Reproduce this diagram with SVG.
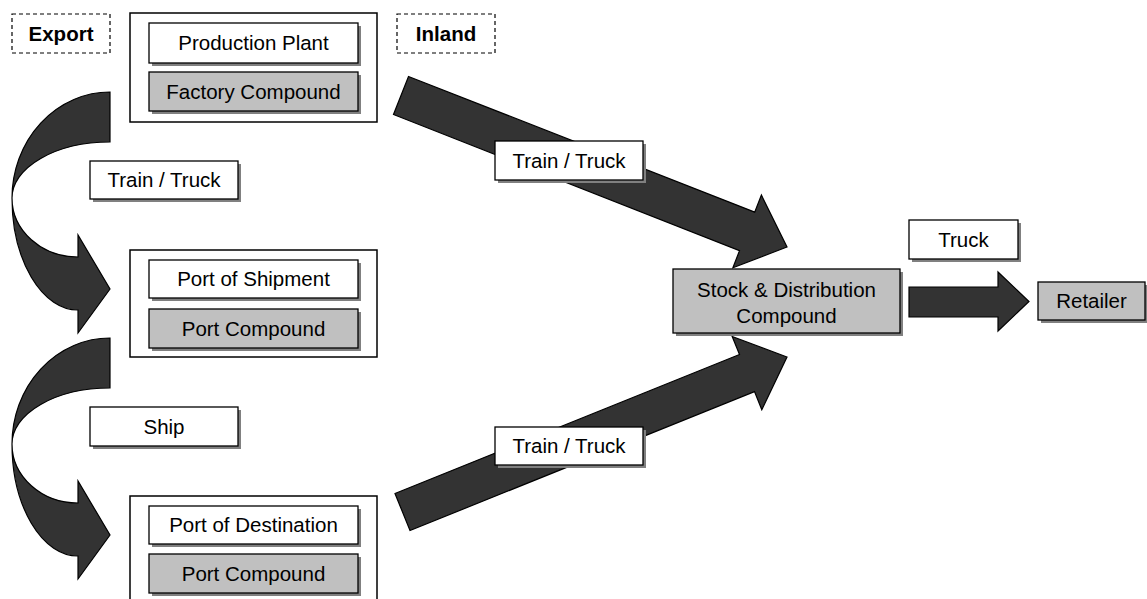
<svg xmlns="http://www.w3.org/2000/svg" width="1147" height="599" viewBox="0 0 1147 599">
<style>
.t{font-family:"Liberation Sans",Arial,sans-serif;font-size:20.5px;fill:#000;text-anchor:middle}
.b{font-weight:bold}
.w{fill:#fff;stroke:#000;stroke-width:1.3}
.g{fill:#c0c0c0;stroke:#000;stroke-width:1.3}
.sh{fill:#808080}
.ob{fill:#fff;stroke:#000;stroke-width:1.5}
.d{fill:#fff;stroke:#000;stroke-width:1.2;stroke-dasharray:4 3}
.ar{fill:#333;stroke:#000;stroke-width:1.2;stroke-linejoin:miter}
</style>
<rect width="1147" height="599" fill="#fff"/>
<g id="connectors">
<path class="ar" d="M110,92 A98,106 0 0 0 12,198 A98,56 0 0 1 110,142 Z"/>
<path class="ar" d="M12,198 A66,112 0 0 0 78,310 L78,333 L110,289 L78,235 L78,257 A66,59 0 0 1 12,198 Z"/>
<path class="ar" d="M110,338 A98,106 0 0 0 12,444 A98,56 0 0 1 110,388 Z"/>
<path class="ar" d="M12,444 A66,112 0 0 0 78,556 L78,579 L110,535 L78,481 L78,503 A66,59 0 0 1 12,444 Z"/>
<polygon class="ar" points="408.5,76.5 754.7,212.1 761.4,195.1 787,247 732.9,267.7 739.5,250.7 393.5,114.5"/>
<polygon class="ar" points="395,493.5 739.5,354.5 732.2,336.5 787,357 761.8,409.7 754.5,391.6 410,530.5"/>
<polygon class="ar" points="909,287 998,287 998,272 1029,301.5 998,331 998,317 909,317"/>
</g>
<g id="export">
<rect class="d" x="12" y="14" width="98" height="39"/>
<text class="t b" x="61" y="40.5">Export</text>
</g>
<g id="inland">
<rect class="d" x="397" y="14" width="98" height="39"/>
<text class="t b" x="446" y="40.5">Inland</text>
</g>
<g id="factory">
<rect class="ob" x="130" y="13" width="247" height="109"/>
<rect class="sh" x="152" y="26" width="209" height="40"/>
<rect class="w" x="149" y="23" width="209" height="40"/>
<text class="t" x="253.5" y="50">Production Plant</text>
<rect class="sh" x="152" y="75" width="209" height="39"/>
<rect class="g" x="149" y="72" width="209" height="39"/>
<text class="t" x="253.5" y="98.5">Factory Compound</text>
</g>
<g id="port-shipment">
<rect class="ob" x="130" y="250" width="247" height="107"/>
<rect class="sh" x="152" y="263" width="209" height="38"/>
<rect class="w" x="149" y="260" width="209" height="38"/>
<text class="t" x="253.5" y="286">Port of Shipment</text>
<rect class="sh" x="152" y="312" width="209" height="39"/>
<rect class="g" x="149" y="309" width="209" height="39"/>
<text class="t" x="253.5" y="335.5">Port Compound</text>
</g>
<g id="port-destination">
<rect class="ob" x="130" y="496" width="247" height="120"/>
<rect class="sh" x="152" y="509" width="209" height="38"/>
<rect class="w" x="149" y="506" width="209" height="38"/>
<text class="t" x="253.5" y="532">Port of Destination</text>
<rect class="sh" x="152" y="557" width="209" height="39"/>
<rect class="g" x="149" y="554" width="209" height="39"/>
<text class="t" x="253.5" y="580.5">Port Compound</text>
</g>
<g id="label-train-truck-export">
<rect class="sh" x="93" y="164" width="148" height="38"/>
<rect class="w" x="90" y="161" width="148" height="38"/>
<text class="t" x="164" y="187">Train / Truck</text>
</g>
<g id="label-ship">
<rect class="sh" x="93" y="410" width="148" height="39"/>
<rect class="w" x="90" y="407" width="148" height="39"/>
<text class="t" x="164" y="433.5">Ship</text>
</g>
<g id="label-train-truck-inland">
<rect class="sh" x="498" y="144" width="148" height="39"/>
<rect class="w" x="495" y="141" width="148" height="39"/>
<text class="t" x="569" y="167.5">Train / Truck</text>
</g>
<g id="label-train-truck-dest">
<rect class="sh" x="498" y="430" width="148" height="38"/>
<rect class="w" x="495" y="427" width="148" height="38"/>
<text class="t" x="569" y="453">Train / Truck</text>
</g>
<g id="stock">
<rect class="sh" x="676" y="272" width="227" height="64"/>
<rect class="g" x="673" y="269" width="227" height="64"/>
<text class="t" x="786.5" y="297">Stock &amp; Distribution</text>
<text class="t" x="786.5" y="322.5">Compound</text>
</g>
<g id="label-truck">
<rect class="sh" x="912" y="223" width="109" height="39"/>
<rect class="w" x="909" y="220" width="109" height="39"/>
<text class="t" x="963.5" y="246.5">Truck</text>
</g>
<g id="retailer">
<rect class="sh" x="1041" y="285" width="107" height="38"/>
<rect class="g" x="1038" y="282" width="107" height="38"/>
<text class="t" x="1091.5" y="308">Retailer</text>
</g>
</svg>
